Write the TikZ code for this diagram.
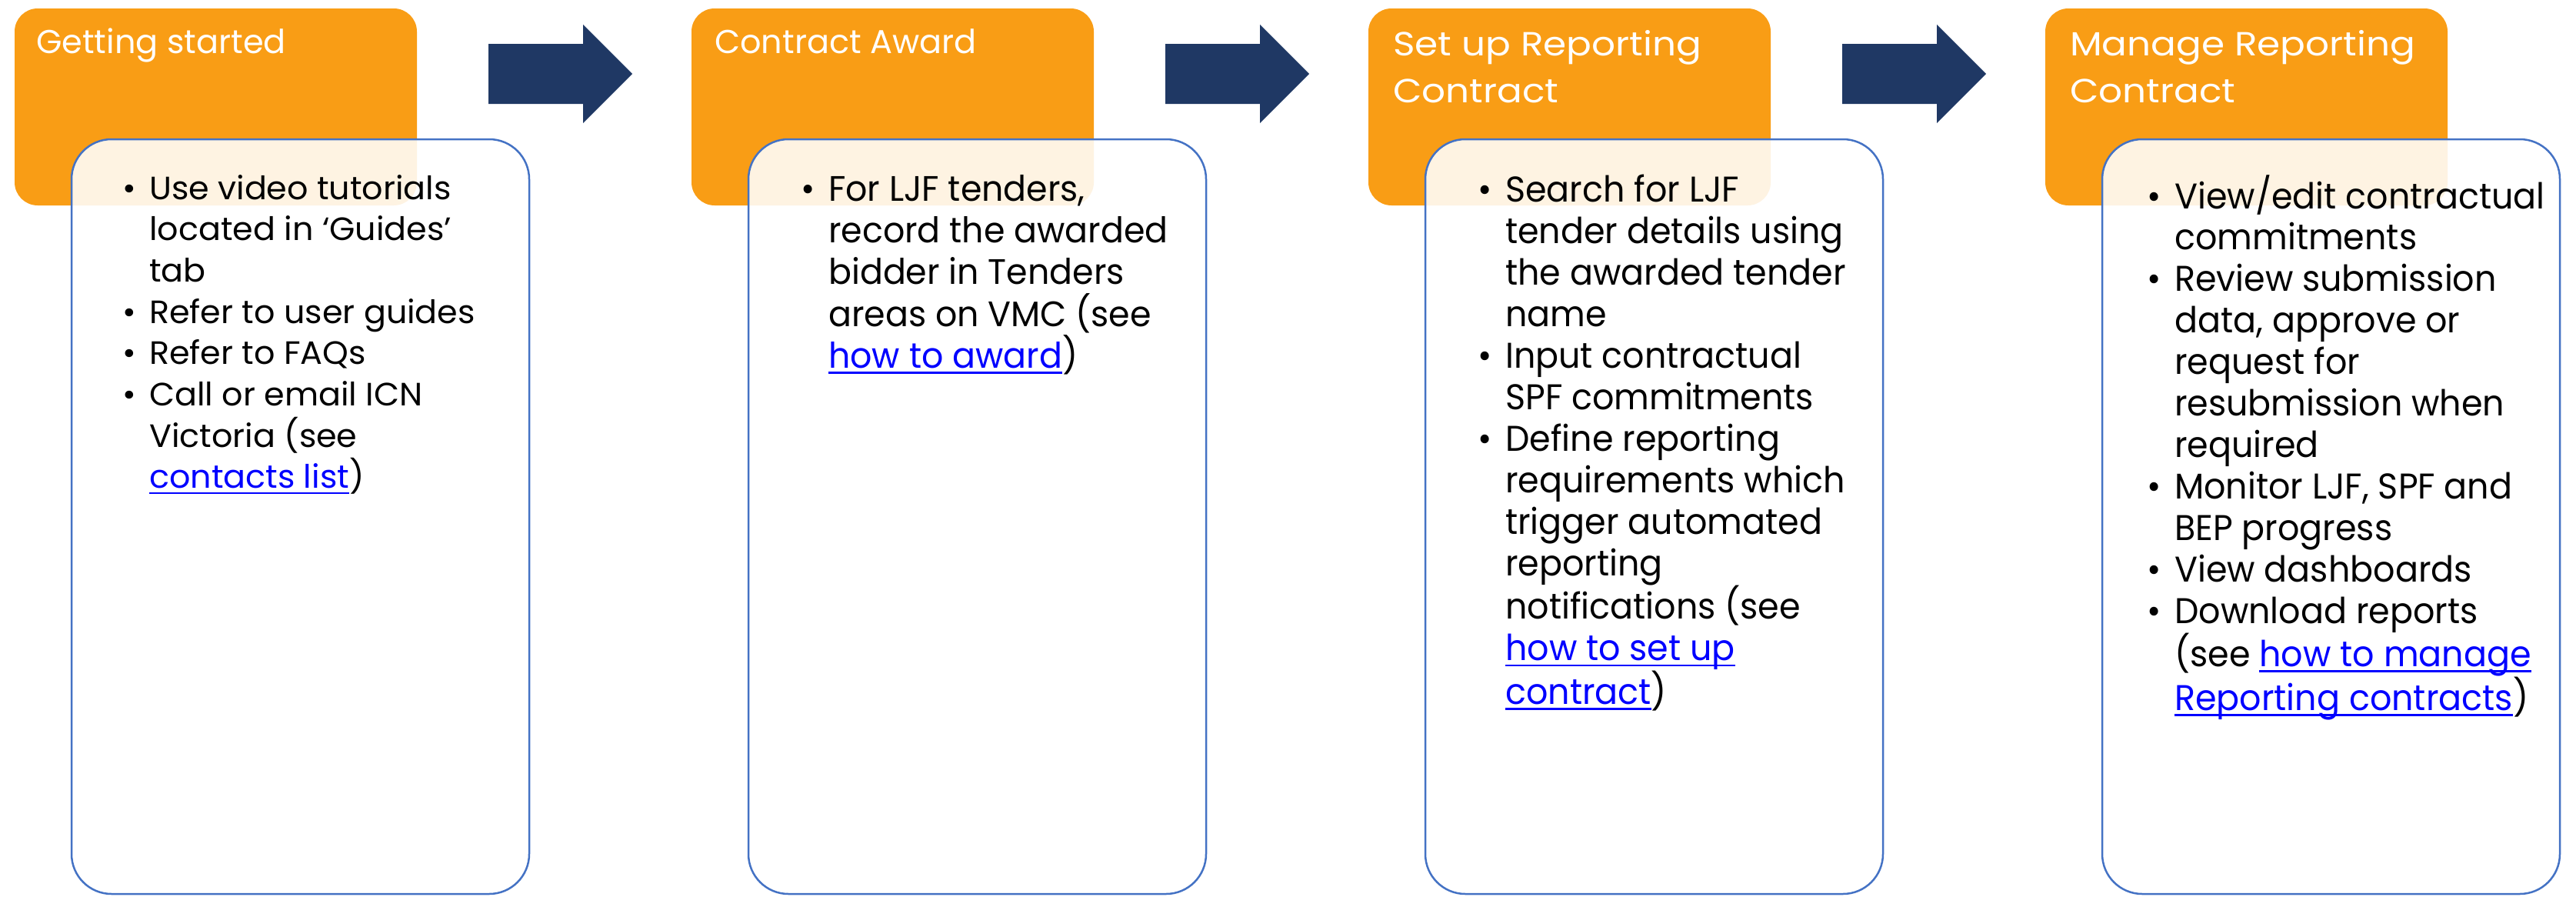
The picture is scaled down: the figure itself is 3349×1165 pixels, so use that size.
\documentclass[tikz,border=0pt]{standalone}
\usepackage{fontspec}
\setmainfont{Poppins}
\newfontfamily\popone[FakeStretch=1.02]{Poppins}
\newfontfamily\poptwo[FakeStretch=0.963]{Poppins}
\newfontfamily\popthree[FakeStretch=0.955]{Poppins}
\newfontfamily\pophead[FakeStretch=1.115]{Poppins}
\definecolor{orng}{HTML}{F99D15}
\definecolor{navy}{HTML}{1F3864}
\definecolor{bord}{HTML}{4472C4}
\definecolor{linkblue}{HTML}{0000FF}
\newcommand\lnk[1]{\leavevmode{\color{linkblue}\setbox0\hbox{#1}\rlap{\rule[-7pt]{\wd0}{2.2pt}}\box0}}
\newcommand\bul{\leavevmode\llap{\textbullet\hspace{17pt}}}
\tikzset{
  headbox/.style={fill=orng, rounded corners=30pt},
  cardbox/.style={fill=white, fill opacity=0.88, draw=bord, draw opacity=1, line width=2.5pt, rounded corners=52pt},
  blockarrow/.style={fill=navy},
  hdr/.style={text=white, anchor=base west, inner sep=0pt},
  bodytxt/.style={text=black, anchor=base west, inner sep=0pt},
}
\begin{document}
\begin{tikzpicture}[x=1pt,y=-1pt]
\useasboundingbox (0,0) rectangle (3349,1165);
% orange header boxes and cards
\foreach \i in {0,1,2,3}{
  \fill[headbox] (19+880*\i,11) rectangle (542+880*\i,267);
}
\foreach \i in {0,1,2,3}{
  \draw[cardbox] (93+880*\i,181) rectangle (688+880*\i,1162);
}
% block arrows
\foreach \i in {0,1,2}{
  \fill[blockarrow] (635+880*\i,57) -- (758+880*\i,57) -- (758+880*\i,32) -- (822+880*\i,96)
     -- (758+880*\i,160) -- (758+880*\i,135) -- (635+880*\i,135) -- cycle;
}
% headers
\node[hdr, font=\fontsize{43}{61}\selectfont] (h1) at (47,69) {Getting started};
\node[hdr, font=\fontsize{43}{61}\selectfont] (h2) at (929,69) {Contract Award};
\node[hdr, font=\pophead\fontsize{43.5}{61}\selectfont] (h3) at (1811,72) {\parbox[t]{520pt}{Set up Reporting\\Contract}};
\node[hdr, font=\pophead\fontsize{43.5}{61}\selectfont] (h4) at (2691,72) {\parbox[t]{520pt}{Manage Reporting\\Contract}};
% bodies
\node[bodytxt, font=\popone\fontsize{42}{53.7}\selectfont] (b1) at (194,259) {\parbox[t]{700pt}{\raggedright
\bul Use video tutorials\\located in ‘Guides’\\tab\\\bul Refer to user guides\\\bul Refer to FAQs\\\bul Call or email ICN\\Victoria (see\\\lnk{contacts list})}};
\node[bodytxt, font=\poptwo\fontsize{46}{54.4}\selectfont] (b2) at (1077,261) {\parbox[t]{700pt}{\raggedright
\bul For LJF tenders,\\record the awarded\\bidder in Tenders\\areas on VMC (see\\\lnk{how to award})}};
\node[bodytxt, font=\popthree\fontsize{46.5}{54.0}\selectfont] (b3) at (1957,262) {\parbox[t]{700pt}{\raggedright
\bul Search for LJF\\tender details using\\the awarded tender\\name\\\bul Input contractual\\SPF commitments\\\bul Define reporting\\requirements which\\trigger automated\\reporting\\notifications (see\\\lnk{how to set up}\\\lnk{contract})}};
\node[bodytxt, font=\popthree\fontsize{46.5}{53.9}\selectfont] (b4) at (2827,271) {\parbox[t]{700pt}{\raggedright
\bul View/edit contractual\\commitments\\\bul Review submission\\data, approve or\\request for\\resubmission when\\required\\\bul Monitor LJF, SPF and\\BEP progress\\\bul View dashboards\\\bul Download reports\\(see \lnk{how to manage}\\\lnk{Reporting contracts})}};
\end{tikzpicture}
\end{document}
